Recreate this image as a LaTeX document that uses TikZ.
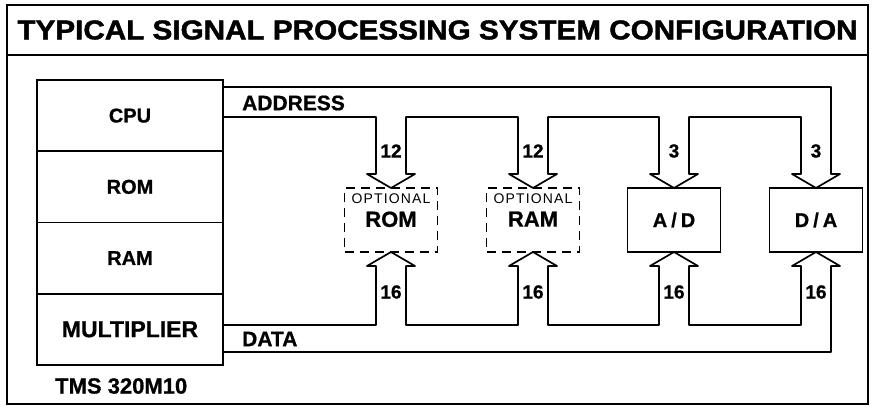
\documentclass[tikz,border=0pt]{standalone}
\usepackage{fontspec}
\usepackage{graphicx}
\setmainfont[BoldFeatures={FakeBold=0.8}]{Liberation Sans}
\newfontfamily\optfont[LetterSpace=8]{Liberation Sans}
\newfontfamily\heavyfont[FakeBold=1.5]{Liberation Sans Bold}
\usetikzlibrary{positioning, calc}

\begin{document}
\begin{tikzpicture}[
  x=1pt, y=-1pt,
  frame/.style={draw, line width=1.8pt},
  chip/.style={
    rectangle, draw, line width=1.7pt, inner sep=0pt, outer sep=0pt,
    minimum width=186pt, minimum height=71.25pt,
    font=\fontsize{20}{22}\selectfont\bfseries
  },
  optbox/.style={
    rectangle, draw, line width=1.7pt, dash pattern=on 9pt off 6pt,
    inner sep=0pt, outer sep=0pt, minimum width=93pt, minimum height=64pt
  },
  devbox/.style={
    rectangle, draw, line width=1.7pt, inner sep=0pt, outer sep=0pt,
    minimum width=93pt, minimum height=64pt,
    font=\fontsize{20}{22}\selectfont\bfseries
  },
  opttxt/.style={inner sep=0pt, font=\optfont\fontsize{14}{15}\selectfont},
  optlbl/.style={inner sep=0pt, font=\fontsize{22}{24}\selectfont\bfseries},
  buslbl/.style={anchor=west, inner sep=0pt, font=\fontsize{21}{24}\selectfont\bfseries},
  num/.style={inner sep=0pt, font=\fontsize{19}{20}\selectfont\bfseries},
  bus/.style={draw, line width=1.7pt, line join=round},
  headdn/.style={insert path={-- ++(9,0) -- (#1.north) -- ++(-24,-14) -- ++(9,0)}},
  headup/.style={insert path={-- ++(-9,0) -- (#1.south) -- ++(24,14) -- ++(-9,0)}},
]
\useasboundingbox (0,0) rectangle (875,407);
%% Frame and title
\draw[frame] (7,5) rectangle (868,404);
\draw[frame] (7,55) -- (868,55);
\node (title) at (437.5,30)
  {\resizebox{840pt}{19pt}{\heavyfont TYPICAL SIGNAL PROCESSING SYSTEM CONFIGURATION}};
%% Processor
\node[chip] (cpu) at (130,115.6) {CPU};
\node[chip, below=0pt of cpu] (rom) {ROM};
\node[chip, below=0pt of rom] (ram) {RAM};
\node[chip, below=0pt of ram, font=\fontsize{23}{25}\selectfont\bfseries] (mult) {MULTIPLIER};
\node[anchor=west, inner sep=0pt, font=\fontsize{22}{24}\selectfont\bfseries] (tms)
  at (55,386) {TMS 320M10};
%% Peripherals
\node[optbox] (orom) at (391,220) {};
\node[optbox] (oram) at (533,220) {};
\node[devbox] (adc) at (674,220) {A\hspace{4pt}/\hspace{4pt}D};
\node[devbox] (dac) at (816,220) {D\hspace{4pt}/\hspace{4pt}A};
\node[opttxt, below=6pt of orom.north] (orom-t) {OPTIONAL};
\node[optlbl, below=7pt of orom-t] (orom-l) {ROM};
\node[opttxt, below=6pt of oram.north] (oram-t) {OPTIONAL};
\node[optlbl, below=7pt of oram-t] (oram-l) {RAM};
%% Address bus
\draw[bus] ($(cpu.north east)+(0,7)$) -| ($(dac.north)+(15,-14)$) [headdn=dac]
  |- ($(adc.north)+(15,-71)$) -- ($(adc.north)+(15,-14)$) [headdn=adc]
  |- ($(oram.north)+(15,-71)$) -- ($(oram.north)+(15,-14)$) [headdn=oram]
  |- ($(orom.north)+(15,-71)$) -- ($(orom.north)+(15,-14)$) [headdn=orom]
  |- ($(cpu.north east)+(0,37)$);
\node[buslbl] (addr) at (242,103) {ADDRESS};
%% Data bus
\draw[bus] ($(mult.south east)+(0,-40)$) -| ($(orom.south)+(-15,14)$) [headup=orom]
  |- ($(oram.south)+(-15,73)$) -- ($(oram.south)+(-15,14)$) [headup=oram]
  |- ($(adc.south)+(-15,73)$) -- ($(adc.south)+(-15,14)$) [headup=adc]
  |- ($(dac.south)+(-15,73)$) -- ($(dac.south)+(-15,14)$) [headup=dac]
  |- ($(mult.south east)+(0,-13)$);
\node[buslbl] (data) at (242,339) {DATA};
%% Bus widths
\node[num] (a-orom) at ($(orom.north)+(0,-37)$) {12};
\node[num] (a-oram) at ($(oram.north)+(0,-37)$) {12};
\node[num] (a-adc)  at ($(adc.north)+(0,-37)$)  {3};
\node[num] (a-dac)  at ($(dac.north)+(0,-37)$)  {3};
\node[num] (d-orom) at ($(orom.south)+(0,40)$)  {16};
\node[num] (d-oram) at ($(oram.south)+(0,40)$)  {16};
\node[num] (d-adc)  at ($(adc.south)+(0,40)$)   {16};
\node[num] (d-dac)  at ($(dac.south)+(0,40)$)   {16};
\end{tikzpicture}
\end{document}
